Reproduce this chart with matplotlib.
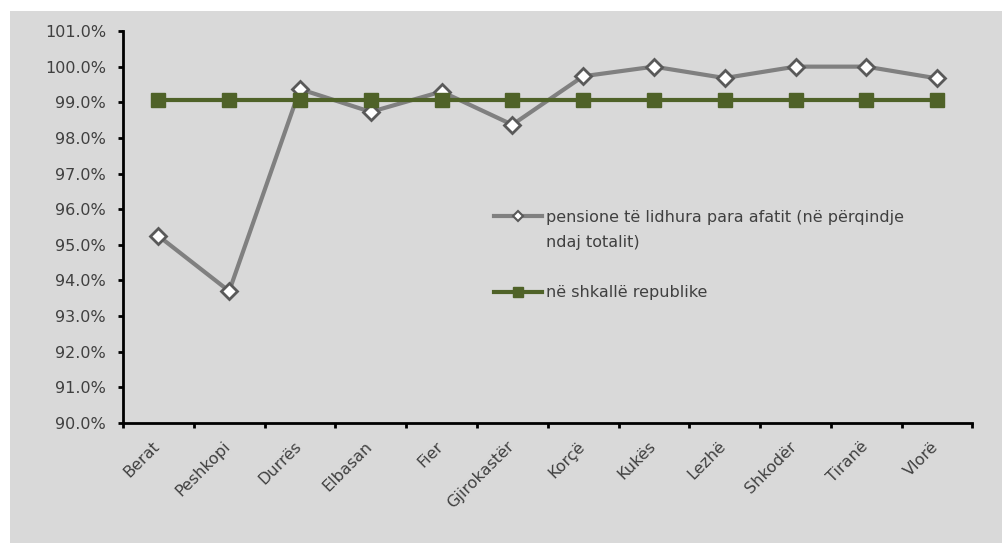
import matplotlib
matplotlib.use("Agg")
import matplotlib.pyplot as plt
from matplotlib.lines import Line2D
from matplotlib.patches import Rectangle
from matplotlib.ticker import FuncFormatter, MultipleLocator, FixedLocator

categories = ["Berat", "Peshkopi", "Durrës", "Elbasan", "Fier", "Gjirokastër",
              "Korçë", "Kukës", "Lezhë", "Shkodër", "Tiranë", "Vlorë"]
pensione = [95.25, 93.70, 99.37, 98.73, 99.30, 98.37,
            99.73, 100.0, 99.68, 100.0, 100.0, 99.67]
republika = [99.07] * 12
label1_line1 = "pensione të lidhura para afatit (në përqindje"
label1_line2 = "ndaj totalit)"
label2 = "në shkallë republike"

plt.rcParams['font.family'] = ['DejaVu Sans']
FS = 11.5
W, H = 1003, 543
fig = plt.figure(figsize=(W / 100, H / 100), dpi=100)
fig.patch.set_facecolor("white")
fig.patches.append(Rectangle((10 / W, 0), (W - 10) / W, (H - 11) / H,
                             transform=fig.transFigure, facecolor="#d9d9d9",
                             edgecolor="none", zorder=-10))

ax = fig.add_axes([123 / W, (H - 423) / H, (972.5 - 123) / W, (423 - 31) / H])
ax.set_facecolor("none")
ax.set_zorder(1)

x = list(range(len(categories)))
gray_c = "#808080"
green_c = "#4f6228"
ax.plot(x, pensione, color=gray_c, lw=3, marker="D", ms=8,
        mfc="white", mec="#595959", mew=2, zorder=3, clip_on=False)
ax.plot(x, republika, color=green_c, lw=3, marker="s", ms=10,
        mfc=green_c, mec=green_c, zorder=4, clip_on=False)

ax.set_xlim(-0.5, len(categories) - 0.5)
ax.set_ylim(90, 101)
ax.yaxis.set_major_locator(MultipleLocator(1))
ax.yaxis.set_major_formatter(FuncFormatter(lambda v, p: f"{v:.1f}%"))
ax.xaxis.set_major_locator(FixedLocator([i - 0.5 for i in range(len(categories) + 1)]))
ax.xaxis.set_major_formatter(FuncFormatter(lambda v, p: ""))

for s in ["top", "right"]:
    ax.spines[s].set_visible(False)
for s in ["left", "bottom"]:
    ax.spines[s].set_linewidth(2)
    ax.spines[s].set_color("black")

txt_c = "#404040"
ax.tick_params(axis="y", which="major", direction="out", length=3.6, width=2,
               labelsize=FS, labelcolor=txt_c, pad=8.6)
ax.tick_params(axis="x", which="major", direction="out", length=3.6, width=2)
for i, c in enumerate(categories):
    ax.text(i - 0.09, 89.56, c, rotation=45, ha="right", va="top",
            rotation_mode="anchor", fontsize=FS, color=txt_c,
            transform=ax.transData)

handles = [
    Line2D([], [], color=gray_c, lw=3, marker="D", ms=5, mfc="white",
           mec="#595959", mew=1.5),
    Line2D([], [], linestyle="none", marker="none"),
    Line2D([], [], linestyle="none", marker="none"),
    Line2D([], [], color=green_c, lw=3, marker="s", ms=7, mfc=green_c, mec=green_c),
]
labels = [label1_line1, label1_line2, " ", label2]
leg = fig.legend(handles, labels, loc="upper left",
                 bbox_to_anchor=(494 / W, 1 - 210 / H), frameon=False,
                 fontsize=FS, handlelength=3.0, handletextpad=0.25,
                 labelspacing=0.63, borderpad=0, borderaxespad=0)
for t in leg.get_texts():
    t.set_color(txt_c)

fig.savefig("out.png", dpi=100, facecolor="white")
